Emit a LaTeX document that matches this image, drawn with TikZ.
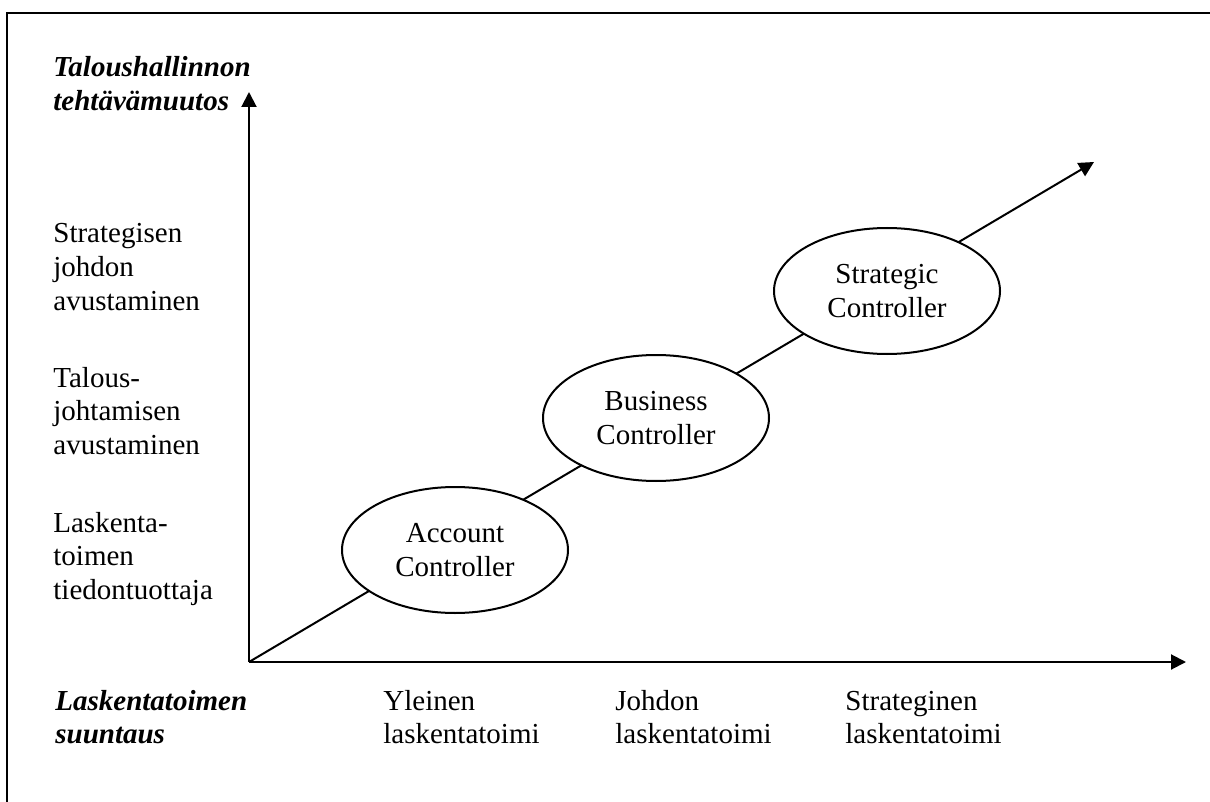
\documentclass[tikz,border=0pt]{standalone}
\usepackage{fontspec}
\setmainfont{Liberation Serif}
\usetikzlibrary{arrows.meta,shapes.geometric}
\newcommand\linesblock[1]{\vtop{#1}}
\begin{document}
\begin{tikzpicture}[x=0.5pt,y=-0.5pt,
  every node/.style={inner sep=0pt, font=\fontsize{14.5}{16.75}\selectfont},
  axis/.style={line width=1pt, -{Triangle[length=7.5pt,width=7.5pt]}},
  role/.style={ellipse, draw, line width=1pt, fill=white,
    minimum width=113pt, minimum height=63pt, align=center},
  heading/.style={anchor=base west, font=\fontsize{14.5}{16.75}\selectfont\bfseries\itshape},
  level/.style={anchor=base west}]
\useasboundingbox (0,0) rectangle (1210,802);

% outer frame (top and left edges)
\draw[line width=1pt, line join=miter] (7,802) -- (7,13) -- (1210,13);

% axes and the development arrow
\coordinate (O) at (249,662);
\coordinate (ytip) at (249,92);
\coordinate (xtip) at (1186,662);
\coordinate (dtip) at (1094,162);
\draw[axis] (O) -- (ytip);
\draw[axis] (O) -- (xtip);
\draw[axis] (O) -- (dtip);

% controller roles along the arrow
\node[role] (acc) at (455,550) {Account\\Controller};
\node[role] (bus) at (656,418) {Business\\Controller};
\node[role] (str) at (887,291) {Strategic\\Controller};

% axis titles
\node[heading] (ytitle) at (53,77) {\linesblock{\hbox{Taloushallinnon}\hbox{tehtävämuutos}}};
\node[heading] (xtitle) at (55,710) {\linesblock{\hbox{Laskentatoimen}\hbox{suuntaus}}};

% vertical axis levels
\node[level] (y1) at (53,532) {\linesblock{\hbox{Laskenta-}\hbox{toimen}\hbox{tiedontuottaja}}};
\node[level] (y2) at (53,387) {\linesblock{\hbox{Talous-}\hbox{johtamisen}\hbox{avustaminen}}};
\node[level] (y3) at (53,243) {\linesblock{\hbox{Strategisen}\hbox{johdon}\hbox{avustaminen}}};

% horizontal axis levels
\node[level] (x1) at (383,710) {\linesblock{\hbox{Yleinen}\hbox{laskentatoimi}}};
\node[level] (x2) at (615,710) {\linesblock{\hbox{Johdon}\hbox{laskentatoimi}}};
\node[level] (x3) at (845,710) {\linesblock{\hbox{Strateginen}\hbox{laskentatoimi}}};
\end{tikzpicture}
\end{document}
